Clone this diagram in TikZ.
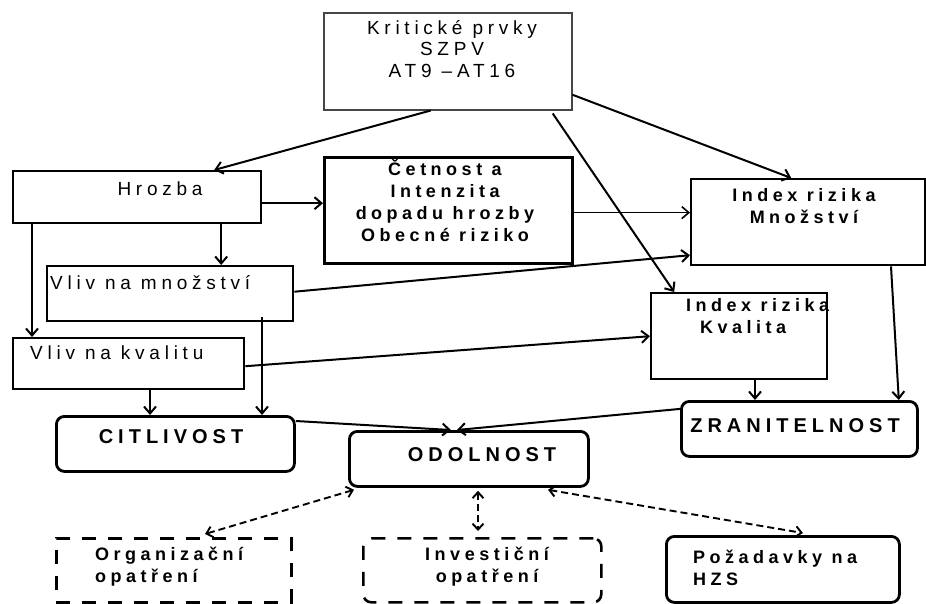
\documentclass[tikz,border=0pt]{standalone}
\usepackage{fontspec}
\setmainfont{Liberation Sans}[LetterSpace=25]
\usetikzlibrary{arrows.meta,calc}
\begin{document}
\begin{tikzpicture}[x=1pt,y=-1pt,
  box/.style={draw, line width=2.4pt, rectangle, anchor=north west, inner sep=0pt},
  rbox/.style={box, rounded corners=8pt, line width=2.8pt},
  dbox/.style={box, line width=2.6pt, dash pattern=on 14pt off 12pt},
  txt/.style={font=\fontsize{19}{21.5}\selectfont, align=center, inner sep=0pt},
  btxt/.style={font=\fontsize{18}{22}\selectfont\bfseries, align=center, inner sep=0pt},
  bigtxt/.style={font=\fontsize{20}{24}\selectfont\bfseries, align=center, inner sep=0pt},
  arr/.style={-{Straight Barb[length=7pt,width=12pt]}, line width=2pt},
  darr/.style={{Straight Barb[length=6pt,width=11pt]}-{Straight Barb[length=6pt,width=11pt]}, line width=1.9pt, dash pattern=on 7pt off 4pt}
]
\path[use as bounding box] (0,0) rectangle (926,603);

% boxes
\node[box, draw=gray!55!black, line width=1.5pt, minimum width=248pt, minimum height=97pt] (krit) at (323,12) {};
\node[txt] (kritT) at (452,49) {Kritické prvky\\SZPV\\AT9 –AT16};

\node[box, minimum width=248pt, minimum height=52pt] (hroz) at (12,170) {};
\node[txt] (hrozT) at (160,189) {Hrozba};

\node[box, line width=3.2pt, minimum width=248pt, minimum height=106pt] (cetn) at (323,156) {};
\node[btxt] (cetnT) at (445,201) {Četnost a\\Intenzita\\dopadu hrozby\\Obecné riziko};

\node[box, minimum width=234pt, minimum height=86pt] (imn) at (690,178) {};
\node[btxt] (imnT) at (804,206) {Index rizika\\Množství};

\node[box, minimum width=246pt, minimum height=55pt] (vmn) at (46,265) {};
\node[txt, anchor=west] (vmnT) at (50,283) {Vliv na množství};

\node[box, minimum width=231pt, minimum height=51pt] (vkv) at (12,337) {};
\node[txt, anchor=west] (vkvT) at (30,353) {Vliv na kvalitu};

\node[box, minimum width=176pt, minimum height=86pt] (ikv) at (650,292) {};
\node[btxt, align=left, anchor=west] (ikvT) at (686,316) {Index rizika\\\hspace*{14pt}Kvalita};

\node[rbox, minimum width=236pt, minimum height=55pt] (zran) at (680,400) {};
\node[bigtxt] (zranT) at (795,426) {ZRANITELNOST};

\node[rbox, minimum width=238pt, minimum height=55pt] (citl) at (55,415) {};
\node[bigtxt] (citlT) at (171,437) {CITLIVOST};

\node[rbox, minimum width=239pt, minimum height=55pt] (odol) at (348,430) {};
\node[bigtxt] (odolT) at (482,455) {ODOLNOST};

\node[dbox, minimum width=235pt, minimum height=64pt] (org) at (55,537) {};
\node[btxt, align=left, anchor=west] (orgT) at (95,567) {Organizační\\opatření};

\node[dbox, rounded corners=8pt, minimum width=238pt, minimum height=64pt] (inv) at (362,537) {};
\node[btxt] (invT) at (487,567) {Investiční\\opatření};

\node[rbox, minimum width=233pt, minimum height=66pt] (poz) at (665,535) {};
\node[btxt, align=left, anchor=west] (pozT) at (693,568) {Požadavky na\\HZS};

% arrows
\draw[arr] ([xshift=-17pt]krit.south) -- ([xshift=77pt]hroz.north);
\draw[arr] ([yshift=-33.5pt]krit.east) -- ([xshift=-17pt]imn.north);
\draw[arr] ([xshift=105pt,yshift=-3pt]krit.south) -- ([xshift=-65pt]ikv.north);
\draw[arr] ([yshift=-6pt]hroz.east) -- ([yshift=-6pt]hroz.east -| cetn.west);
\draw[arr] ([xshift=84pt]hroz.south) -- ([xshift=84pt]hroz.south |- vmn.north);
\draw[arr] ([xshift=20pt]hroz.south west) -- ([xshift=20pt]hroz.south west |- vkv.north);
\draw[arr, line width=1.6pt] ([yshift=-2pt]cetn.east) -- ([yshift=-2pt]cetn.east -| imn.west);
\draw[arr] ([yshift=2pt]vmn.east) -- ([yshift=-33pt]imn.west);
\draw[arr] ([xshift=216pt,yshift=5pt]vmn.south west) -- ([xshift=216pt]vmn.south west |- citl.north);
\draw[arr] ([xshift=138pt]vkv.south west) -- ([xshift=138pt]vkv.south west |- citl.north);
\draw[arr] ([yshift=-2.5pt]vkv.east) -- (ikv.west);
\draw[arr] ([xshift=201pt]imn.south west) -- ([xshift=-20pt]zran.north east);
\draw[arr] ([xshift=105pt]ikv.south west) -- ([xshift=105pt]ikv.south west |- zran.north);
\draw[arr] ([yshift=-6pt]citl.north east) -- ([xshift=-18pt]odol.north);
\draw[arr] ([yshift=20pt]zran.west) -- ([xshift=-12pt]odol.north);
\draw[darr] ([xshift=6pt,yshift=-2pt]odol.south west) -- ([xshift=150pt,yshift=3pt]org.north west);
\draw[darr] ([xshift=130pt,yshift=-3pt]odol.south west) -- ([xshift=130pt,yshift=6pt]odol.south west |- inv.north);
\draw[darr] ([xshift=200pt,yshift=-2pt]odol.south west) -- ([xshift=20pt,yshift=2pt]poz.north);
\end{tikzpicture}
\end{document}
